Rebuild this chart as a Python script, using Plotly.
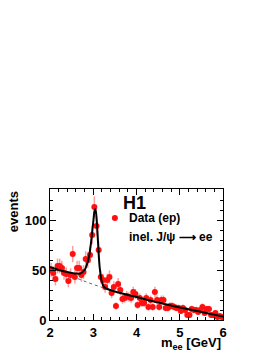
import numpy as np
import plotly.graph_objects as go

# data: bin centres (GeV) and counts
mass = [2.025 + 0.05 * i for i in range(80)]
counts = [50, 47, 41, 54, 54, 52, 47, 46, 39, 45,
          66, 43, 52, 52, 45, 48, 61, 60, 65, 85,
          113, 94, 70, 43, 40, 33, 40, 43, 27, 33,
          14, 36, 30, 21, 22, 24, 23, 22, 28, 26,
          15, 22, 17, 17, 22, 13, 20, 13, 28, 20,
          13, 20, 20, 12, 12, 14, 14, 13, 12, 12,
          9, 12, 10, 5, 5, 11, 10, 10, 8, 10,
          13, 7, 11, 11, 5, 5, 7, 3, 4, 3]
errors = [float(np.sqrt(c)) for c in counts]

# fit curve (signal + background)
fit_x = [2.0, 2.2, 2.4, 2.6, 2.7, 2.8, 2.85, 2.9, 2.95, 3.0, 3.03, 3.05, 3.08,
         3.11, 3.15, 3.2, 3.25, 3.3, 3.5, 4.0, 4.5, 5.0, 5.5, 6.0]
fit_y = [53, 50, 48, 46.5, 46.5, 50, 55, 63, 78, 98, 109, 111, 100,
         78, 52, 38, 33, 31.5, 28.5, 23, 17.5, 12.5, 8, 3.5]
# background only (dotted)
bkg_x = [2.0, 2.5, 3.0, 3.25]
bkg_y = [52, 43.5, 35.5, 32]

# legend marker position (axis units)
leg_marker_x = [3.5]
leg_marker_y = [102]

fig = go.Figure()
fig.add_trace(go.Scatter(x=bkg_x, y=bkg_y, mode="lines",
                         line=dict(color="#666666", width=1, dash="dot"),
                         showlegend=False))
fig.add_trace(go.Scatter(x=mass, y=counts, mode="markers",
                         marker=dict(color="#ff1010", size=6),
                         error_y=dict(type="data", array=errors, color="rgba(255,90,90,0.6)",
                                      thickness=1.5, width=0),
                         showlegend=False))
fig.add_trace(go.Scatter(x=fit_x, y=fit_y, mode="lines", line_shape="spline",
                         line=dict(color="black", width=2), showlegend=False))
fig.add_trace(go.Scatter(x=leg_marker_x, y=leg_marker_y, mode="markers",
                         marker=dict(color="#ff1010", size=6), showlegend=False))

axis_common = dict(showgrid=False, zeroline=False, showline=True, linecolor="black",
                   linewidth=1, mirror="allticks", ticks="inside", ticklen=6,
                   tickcolor="black", automargin=False,
                   tickfont=dict(family="Liberation Sans, Arial", size=13, color="black", weight="bold"))
fig.update_xaxes(range=[2, 6], tickvals=[2, 3, 4, 5, 6], **axis_common,
                 minor=dict(dtick=0.2, ticks="inside", ticklen=3, tickcolor="black"))
fig.update_yaxes(range=[0, 131], tickvals=[0, 50, 100], **axis_common,
                 minor=dict(dtick=10, ticks="inside", ticklen=3, tickcolor="black"))

fnt = dict(family="Liberation Sans, Arial, sans-serif", color="black")
fig.update_layout(
    width=265, height=345,
    margin=dict(l=42, r=50, t=181, b=33),
    paper_bgcolor="white", plot_bgcolor="white",
    font=fnt,
    showlegend=False,
    annotations=[
        dict(text="<b>H1</b>", x=0.49, y=0.985, xref="x domain", yref="y domain",
             xanchor="center", yanchor="top", showarrow=False, font=dict(size=18)),
        dict(text="<b>Data (ep)</b>", x=0.445, y=0.775, xref="x domain", yref="y domain",
             xanchor="left", yanchor="middle", showarrow=False, font=dict(size=12)),
        dict(text="<b>inel. J/ψ ⟶ ee</b>", x=0.445, y=0.63, xref="x domain", yref="y domain",
             xanchor="left", yanchor="middle", showarrow=False, font=dict(size=12)),
        dict(text="<b>events</b>", x=-0.21, y=1.0, xref="x domain", yref="y domain",
             xanchor="center", yanchor="top", textangle=-90, showarrow=False,
             font=dict(size=13)),
        dict(text="<b>m<sub>ee</sub> [GeV]</b>", x=1.0, y=-0.1, xref="x domain", yref="y domain",
             xanchor="right", yanchor="top", showarrow=False, font=dict(size=13)),
    ],
)

fig.write_html("out.html")
